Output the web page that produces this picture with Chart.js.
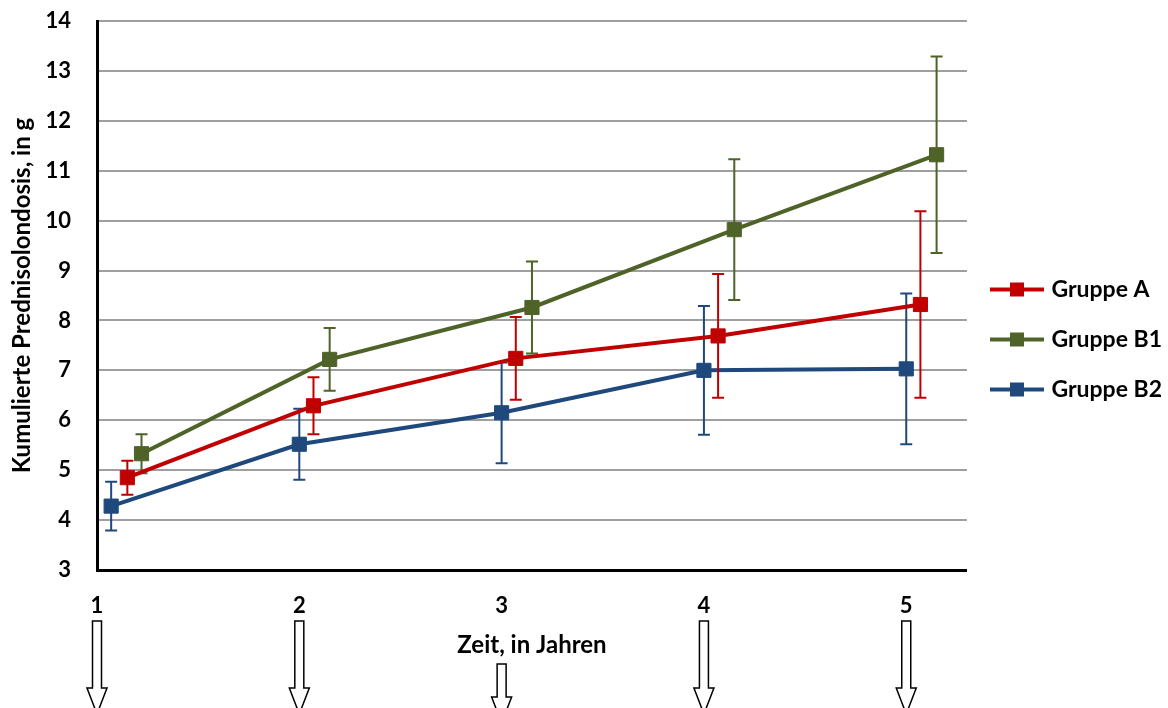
<!DOCTYPE html>
<html>
<head>
<meta charset="utf-8">
<script src="https://cdn.jsdelivr.net/npm/chart.js@4.4.1/dist/chart.umd.min.js"></script>
<style>
  html, body { margin: 0; padding: 0; background: #fff; }
</style>
</head>
<body>
<canvas id="grafico" width="1168" height="708"></canvas>
<script>
// Zeitpunkte (Jahre), leicht versetzt je Gruppe
const jahre = [1, 2, 3, 4, 5];
const zeitA  = [1.15, 2.07, 3.07, 4.07, 5.07];
const zeitB1 = [1.22, 2.15, 3.15, 4.15, 5.15];
const zeitB2 = [1.07, 2.00, 3.00, 4.00, 5.00];

// Mittelwerte kumulierte Dosis (g)
const dosisA  = [4.85, 6.29, 7.24, 7.69, 8.32];
const dosisB1 = [5.33, 7.22, 8.26, 9.82, 11.32];
const dosisB2 = [4.28, 5.52, 6.15, 7.00, 7.03];

// Standardabweichungen (Fehlerbalken)
const sdA  = [0.34, 0.57, 0.83, 1.24, 1.87];
const sdB1 = [0.39, 0.63, 0.92, 1.41, 1.97];
const sdB2 = [0.49, 0.71, 1.01, 1.29, 1.51];

const yTicks = [3, 4, 5, 6, 7, 8, 9, 10, 11, 12, 13, 14];

const gruppen = [
    { name: 'Gruppe A',  zeit: zeitA,  dosis: dosisA,  sd: sdA,  farbe: '#C00000' },
    { name: 'Gruppe B1', zeit: zeitB1, dosis: dosisB1, sd: sdB1, farbe: '#4F6228' },
    { name: 'Gruppe B2', zeit: zeitB2, dosis: dosisB2, sd: sdB2, farbe: '#1F497D' }
];

const schrift = "Lato, 'Open Sans', sans-serif";

function legendenBild(farbe) {
    const c = document.createElement('canvas');
    c.width = 54; c.height = 16;
    const g = c.getContext('2d');
    g.strokeStyle = farbe;
    g.lineWidth = 4;
    g.beginPath(); g.moveTo(0, 8); g.lineTo(54, 8); g.stroke();
    g.fillStyle = farbe;
    g.fillRect(20, 1, 14, 14);
    return c;
}

// Fehlerbalken unter jeder eigenen Linie zeichnen
const fehlerbalken = {
    id: 'fehlerbalken',
    beforeDatasetDraw(chart, args) {
        const grp = gruppen[args.index];
        const { ctx, scales: { x, y } } = chart;
        ctx.save();
        ctx.strokeStyle = grp.farbe;
        ctx.lineWidth = 2;
        grp.zeit.forEach((t, i) => {
            const px = x.getPixelForValue(t);
            const oben = y.getPixelForValue(grp.dosis[i] + grp.sd[i]);
            const unten = y.getPixelForValue(grp.dosis[i] - grp.sd[i]);
            ctx.beginPath();
            ctx.moveTo(px, oben); ctx.lineTo(px, unten);
            ctx.moveTo(px - 6, oben); ctx.lineTo(px + 6, oben);
            ctx.moveTo(px - 6, unten); ctx.lineTo(px + 6, unten);
            ctx.stroke();
        });
        ctx.restore();
    }
};

// Hohle Pfeile unter den Jahreszahlen
const pfeile = {
    id: 'pfeile',
    afterDraw(chart) {
        const { ctx, scales: { x } } = chart;
        ctx.save();
        ctx.strokeStyle = '#000';
        ctx.lineWidth = 1.5;
        ctx.fillStyle = '#fff';
        jahre.forEach(j => {
            const px = x.getPixelForValue(j);
            const kurz = j === 3;
            const top = kurz ? 664 : 621;
            const kopf = kurz ? 697 : 688;
            ctx.beginPath();
            ctx.moveTo(px - 4.5, top);
            ctx.lineTo(px + 4.5, top);
            ctx.lineTo(px + 4.5, kopf);
            ctx.lineTo(px + 10, kopf);
            ctx.lineTo(px, kopf + 26);
            ctx.lineTo(px - 10, kopf);
            ctx.lineTo(px - 4.5, kopf);
            ctx.closePath();
            ctx.fill();
            ctx.stroke();
        });
        ctx.restore();
    }
};

new Chart(document.getElementById('grafico'), {
    type: 'line',
    data: {
        datasets: gruppen.map(g => ({
            label: g.name,
            data: g.zeit.map((t, i) => ({ x: t, y: g.dosis[i] })),
            borderColor: g.farbe,
            backgroundColor: g.farbe,
            borderWidth: 4,
            pointStyle: 'rect',
            pointRadius: 10,
            pointBorderWidth: 1,
            pointHoverRadius: 10,
            tension: 0,
            fill: false
        }))
    },
    options: {
        responsive: false,
        animation: false,
        devicePixelRatio: 1,
        layout: { autoPadding: false, padding: { top: 21, right: -4, bottom: 50, left: 0 } },
        plugins: {
            tooltip: { enabled: false },
            legend: {
                position: 'right',
                labels: {
                    usePointStyle: true,
                    pointStyleWidth: 46,
                    padding: 27,
                    color: '#000',
                    font: { family: schrift, size: 23, weight: 'bold' },
                    generateLabels: chart => gruppen.map((g, i) => ({
                        text: g.name,
                        datasetIndex: i,
                        pointStyle: legendenBild(g.farbe),
                        fillStyle: g.farbe,
                        strokeStyle: g.farbe,
                        lineWidth: 0,
                        fontColor: '#000'
                    }))
                }
            }
        },
        scales: {
            x: {
                type: 'linear',
                min: 1,
                max: 5.3,
                afterFit: s => { s.height = 88; },
                afterBuildTicks: s => { s.ticks = jahre.map(v => ({ value: v })); },
                grid: { display: false, drawTicks: false },
                border: { display: true, color: '#000', width: 3 },
                ticks: {
                    padding: 23,
                    color: '#000',
                    font: { family: schrift, size: 22, weight: 'bold' },
                    callback: v => String(v)
                },
                title: {
                    display: true,
                    text: 'Zeit, in Jahren',
                    color: '#000',
                    font: { family: schrift, size: 24, weight: 'bold' },
                    padding: { top: 0, bottom: -2 }
                }
            },
            y: {
                min: 3,
                max: 14,
                afterFit: s => { s.width = 97; s.paddingTop = 0; s.paddingBottom = 0; },
                afterBuildTicks: s => { s.ticks = yTicks.map(v => ({ value: v })); },
                grid: { color: '#9f9f9f', lineWidth: 2, drawTicks: false },
                border: { display: true, color: '#000', width: 3 },
                ticks: {
                    padding: 26,
                    color: '#000',
                    font: { family: schrift, size: 22, weight: 'bold' }
                },
                title: {
                    display: true,
                    text: 'Kumulierte Prednisolondosis, in g',
                    color: '#000',
                    font: { family: schrift, size: 24, weight: 'bold' },
                    padding: { top: 8, bottom: 0 }
                }
            }
        }
    },
    plugins: [fehlerbalken, pfeile]
});
</script>
</body>
</html>
